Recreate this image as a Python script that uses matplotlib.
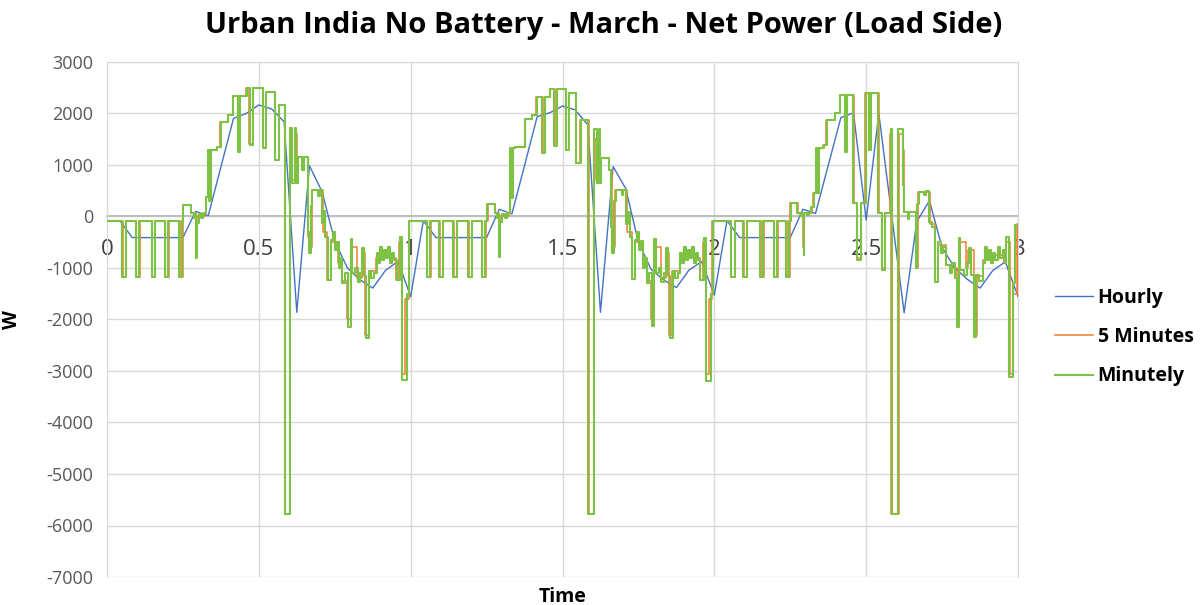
import numpy as np
import matplotlib
matplotlib.use('Agg')
import matplotlib.pyplot as plt

# Hourly net power (W), hours 0..72
hourly_w = [-80, -80, -410, -410, -410, -410, -410, 100, 15, 960, 1905, 2000,
            2165, 2090, 1840, -1860, 985, 480, -480, -1000, -1230, -1390, -1050, -870,
            -1555, -80, -410, -410, -410, -410, -410, 140, 50, 990, 1940, 2015,
            2145, 2070, 1780, -1860, 970, 540, -500, -1025, -1233, -1380, -1040, -877,
            -1525, -80, -410, -410, -410, -410, -410, 140, 60, 990, 1920, 2015,
            -70, 2000, 60, -1870, -100, 307, -600, -1000, -1220, -1390, -1050, -880,
            -1555]

# Minutely series, read as step breakpoints (hour of day, W)
minutely_day1 = [(0.00, -80), (1.21, -1180), (1.48, -80), (2.29, -1180), (2.56, -80),
                 (3.53, -1180), (3.79, -80), (4.58, -1180), (4.85, -80), (5.69, -1180),
                 (5.95, -80), (6.03, 220), (6.64, 60), (6.85, -20), (6.95, 40), (7.05, -810),
                 (7.12, -120), (7.25, 50), (7.40, -30), (7.55, 60), (7.83, 385), (8.00, 1290),
                 (8.08, 300), (8.20, 1290), (8.67, 1340), (8.98, 1840), (9.59, 1970),
                 (9.99, 2340), (10.35, 1260), (10.48, 2340), (11.04, 2490), (11.30, 1390),
                 (11.55, 2490), (12.35, 1325), (12.60, 2425), (13.30, 1100), (13.60, 2165),
                 (14.10, -5780), (14.50, 1710), (14.60, 650), (14.85, 1710), (14.95, 650),
                 (15.10, 1160), (15.45, 900), (15.55, 1160), (15.88, -300), (16.00, -715),
                 (16.10, 200), (16.20, 515), (16.70, 400), (16.80, 515), (17.00, -130),
                 (17.10, 100), (17.25, -390), (17.45, -1230), (17.70, -450), (17.85, -300),
                 (18.00, -650), (18.15, -500), (18.30, -1000), (18.45, -800), (18.60, -1300),
                 (18.80, -1100), (19.05, -2140), (19.25, -440), (19.40, -1100), (19.60, -1000),
                 (19.80, -1280), (20.00, -1100), (20.15, -620), (20.30, -1150), (20.50, -2365),
                 (20.72, -1050), (20.90, -1200), (21.10, -1100), (21.30, -700), (21.45, -900),
                 (21.60, -600), (21.75, -850), (21.90, -650), (22.05, -800), (22.20, -600),
                 (22.40, -900), (22.55, -700), (22.70, -850), (22.90, -1230), (23.15, -405),
                 (23.35, -3175), (23.70, -1500), (23.88, -80)]

minutely_day2 = [(0.00, -80), (1.27, -1180), (1.54, -80), (2.27, -1180), (2.54, -80),
                 (3.38, -1180), (3.64, -80), (4.56, -1180), (4.82, -80), (5.62, -1180),
                 (5.88, -80), (6.06, 243), (6.67, 60), (6.85, -30), (6.92, 40), (7.00, -790),
                 (7.08, -100), (7.25, 40), (7.45, -20), (7.60, 60), (7.86, 1325), (7.95, 350),
                 (8.05, 1325), (8.25, 1340), (9.04, 1890), (9.60, 1970), (9.97, 2330),
                 (10.40, 1225), (10.60, 2330), (11.03, 2470), (11.30, 1370), (11.55, 2470),
                 (12.30, 1290), (12.55, 2390), (13.10, 1030), (13.50, 1875), (14.05, -5780),
                 (14.50, 1700), (14.70, 650), (14.85, 1700), (15.00, 650), (15.05, 1130),
                 (15.70, 900), (15.80, -200), (15.95, -700), (16.10, 300), (16.20, 515),
                 (16.70, 420), (16.80, 515), (17.00, -150), (17.15, 80), (17.30, -400),
                 (17.50, -1220), (17.75, -450), (17.90, -300), (18.05, -650), (18.20, -480),
                 (18.35, -1000), (18.50, -800), (18.65, -1300), (18.85, -1100), (19.05, -2120),
                 (19.25, -430), (19.40, -1100), (19.60, -1000), (19.80, -1280), (20.00, -1100),
                 (20.15, -620), (20.30, -1150), (20.50, -2350), (20.72, -1050), (20.90, -1200),
                 (21.10, -1100), (21.30, -700), (21.45, -900), (21.60, -600), (21.75, -850),
                 (21.90, -650), (22.05, -800), (22.20, -600), (22.40, -900), (22.55, -700),
                 (22.70, -850), (22.90, -1230), (23.15, -420), (23.35, -3200), (23.70, -1500),
                 (23.88, -80)]

minutely_day3 = [(0.00, -80), (1.30, -1180), (1.64, -80), (2.30, -1180), (2.57, -80),
                 (3.62, -1180), (3.88, -80), (4.73, -1180), (4.99, -80), (5.68, -1180),
                 (5.94, -80), (6.02, 256), (6.57, 60), (6.75, 0), (6.90, 60), (7.05, -750),
                 (7.12, 60), (7.30, 20), (7.50, 60), (7.65, 190), (7.84, 450), (8.00, 1325),
                 (8.10, 450), (8.30, 1325), (8.63, 1390), (8.90, 1875), (9.55, 2005),
                 (9.95, 2360), (10.35, 1260), (10.50, 2360), (10.95, 256), (11.30, -845),
                 (11.60, 256), (11.97, 2390), (12.25, 1290), (12.40, 2390), (12.97, 70),
                 (13.24, -1040), (13.50, 70), (13.95, 1700), (14.03, -5780), (14.55, 1700),
                 (14.95, 610), (15.00, 93), (15.30, -50), (15.40, 93), (15.90, -1000),
                 (16.00, 250), (16.14, 480), (16.60, 420), (16.70, 500), (17.00, -100),
                 (17.20, -200), (17.45, -1265), (17.70, -500), (17.90, -700), (18.10, -600),
                 (18.30, -950), (18.60, -1100), (18.80, -900), (19.00, -1200), (19.17, -2140),
                 (19.30, -425), (19.45, -1040), (19.70, -1140), (19.95, -900), (20.09, -620),
                 (20.25, -1140), (20.50, -2335), (20.70, -1140), (20.95, -1260), (21.20, -900),
                 (21.40, -600), (21.55, -850), (21.70, -650), (21.85, -900), (22.00, -700),
                 (22.20, -850), (22.40, -600), (22.60, -800), (22.80, -650), (22.95, -900),
                 (23.07, -405), (23.30, -3110), (23.60, -1300), (23.78, -165), (24.00, -165)]

# 5 minute series (hour of day, W)
five_min_day1 = [(0.00, -80), (1.17, -80), (1.25, -1180), (1.42, -1180), (1.50, -80),
                 (2.25, -80), (2.33, -1180), (2.50, -1180), (2.58, -80), (3.50, -80),
                 (3.58, -1180), (3.75, -1180), (3.83, -80), (4.50, -80), (4.58, -1180),
                 (4.83, -1180), (4.92, -80), (5.67, -80), (5.75, -1180), (5.92, -1180),
                 (6.00, 220), (6.58, 220), (6.67, 60), (7.00, -600), (7.08, 0), (7.75, 60),
                 (7.83, 385), (8.08, 1290), (8.67, 1340), (8.92, 1840), (9.58, 1970),
                 (9.92, 2340), (10.33, 1300), (10.42, 2340), (11.00, 2490), (11.25, 1400),
                 (11.50, 2490), (12.33, 1325), (12.58, 2425), (13.25, 1100), (13.58, 2165),
                 (14.00, 2165), (14.08, -5780), (14.42, -5780), (14.50, 1500), (14.58, 700),
                 (14.83, 1600), (15.00, 700), (15.08, 1160), (15.83, 1160), (15.92, -400),
                 (16.08, -600), (16.17, 515), (16.92, 515), (17.08, -300), (17.42, -1230),
                 (17.67, -500), (18.25, -900), (18.58, -1250), (19.00, -2000), (19.25, -600),
                 (19.75, -1200), (20.17, -700), (20.42, -2300), (20.67, -1050), (21.25, -800),
                 (21.75, -750), (22.42, -800), (22.83, -1230), (23.08, -500), (23.33, -3050),
                 (23.58, -1600), (23.83, -80), (24.00, -80)]

five_min_day2 = [(0.00, -80), (1.25, -80), (1.33, -1180), (1.50, -1180), (1.58, -80),
                 (2.25, -80), (2.33, -1180), (2.50, -1180), (2.58, -80), (3.33, -80),
                 (3.42, -1180), (3.58, -1180), (3.67, -80), (4.50, -80), (4.58, -1180),
                 (4.75, -1180), (4.83, -80), (5.58, -80), (5.67, -1180), (5.83, -1180),
                 (5.92, -80), (6.08, 243), (6.58, 243), (6.67, 60), (7.00, -600), (7.08, 0),
                 (7.75, 60), (7.83, 1325), (8.25, 1340), (9.00, 1890), (9.58, 1970),
                 (9.92, 2330), (10.42, 1250), (10.58, 2330), (11.00, 2470), (11.33, 1400),
                 (11.50, 2470), (12.25, 1290), (12.50, 2390), (13.08, 1030), (13.42, 1875),
                 (14.00, 1875), (14.08, -5780), (14.42, -5780), (14.50, 1500), (14.67, 700),
                 (14.83, 1600), (15.00, 700), (15.08, 1130), (15.67, 900), (15.92, -600),
                 (16.17, 515), (16.92, 515), (17.08, -300), (17.50, -1220), (17.75, -500),
                 (18.33, -900), (18.67, -1250), (19.00, -2000), (19.25, -600), (19.75, -1200),
                 (20.17, -700), (20.42, -2300), (20.67, -1050), (21.25, -800), (21.75, -750),
                 (22.42, -800), (22.83, -1230), (23.08, -500), (23.33, -3050), (23.58, -1600),
                 (23.83, -80), (24.00, -80)]

five_min_day3 = [(0.00, -80), (1.25, -80), (1.33, -1180), (1.58, -1180), (1.67, -80),
                 (2.25, -80), (2.33, -1180), (2.50, -1180), (2.58, -80), (3.58, -80),
                 (3.67, -1180), (3.83, -1180), (3.92, -80), (4.67, -80), (4.75, -1180),
                 (4.92, -1180), (5.00, -80), (5.67, -80), (5.75, -1180), (5.92, -1180),
                 (6.00, 256), (6.50, 256), (6.58, 60), (7.00, -600), (7.08, 60), (7.75, 190),
                 (7.83, 450), (8.08, 1325), (8.58, 1390), (8.83, 1875), (9.50, 2005),
                 (9.92, 2360), (10.33, 1300), (10.50, 2360), (10.92, 2360), (11.00, 256),
                 (11.25, -800), (11.58, 256), (11.92, 2390), (12.25, 1290), (12.42, 2390),
                 (12.92, 2390), (13.00, 70), (13.25, -1000), (13.50, 70), (13.92, 1600),
                 (14.00, -5780), (14.50, -5780), (14.58, 1600), (14.92, 1290), (15.00, 93),
                 (15.83, 93), (15.92, -1000), (16.08, 480), (16.92, 480), (17.08, -150),
                 (17.42, -1265), (17.67, -550), (18.33, -950), (18.75, -1000), (19.17, -2100),
                 (19.33, -500), (19.92, -1000), (20.08, -650), (20.50, -2300), (20.75, -1150),
                 (21.25, -850), (21.75, -750), (22.42, -750), (22.92, -900), (23.08, -500),
                 (23.33, -3050), (23.58, -1500), (23.92, -150), (24.00, -1500)]

x_ticks = [0, 0.5, 1, 1.5, 2, 2.5, 3]
x_tick_labels = ['0', '0.5', '1', '1.5', '2', '2.5', '3']
y_ticks = [3000, 2000, 1000, 0, -1000, -2000, -3000, -4000, -5000, -6000, -7000]
y_tick_labels = ['3000', '2000', '1000', '0', '-1000', '-2000', '-3000', '-4000',
                 '-5000', '-6000', '-7000']


def to_days(day, pts):
    # hour of day -> fractional day on the time axis
    t = [day + h / 24.0 for h, w in pts]
    w = [w for h, w in pts]
    return t, w


plt.rcParams['font.family'] = ['Open Sans', 'DejaVu Sans']

fig = plt.figure(figsize=(12, 6.05), dpi=100)
ax = fig.add_axes([107 / 1200, 1 - 577 / 605, 911 / 1200, 515 / 605])

# hourly
hour_t = [i / 24.0 for i in range(len(hourly_w))]
ax.plot(hour_t, hourly_w, color='#4472C4', lw=1.0, label='Hourly', zorder=3)

# 5 minutes
t5, w5 = [], []
for d, pts in enumerate([five_min_day1, five_min_day2, five_min_day3]):
    t, w = to_days(d, pts)
    t5 += t
    w5 += w
ax.plot(t5, w5, color='#ED7D31', lw=1.1, drawstyle='steps-post', label='5 Minutes', zorder=4)

# minutely
tm, wm = [], []
for d, pts in enumerate([minutely_day1, minutely_day2, minutely_day3]):
    t, w = to_days(d, pts)
    tm += t
    wm += w
tm.append(3.0)
wm.append(wm[-1])
ax.plot(tm, wm, color='#7DC242', lw=1.5, drawstyle='steps-post', label='Minutely', zorder=5)

ax.set_xlim(0, 3)
ax.set_ylim(-7000, 3000)
ax.set_xticks(x_ticks)
ax.set_xticklabels(x_tick_labels)
ax.set_yticks(y_ticks)
ax.set_yticklabels(y_tick_labels)
ax.grid(True, color='#d9d9d9', lw=1.0, zorder=0)
ax.set_axisbelow(True)

for s in ['left', 'right', 'top']:
    ax.spines[s].set_color('#d9d9d9')
ax.spines['bottom'].set_position(('data', 0))
ax.spines['bottom'].set_color('#bfbfbf')
ax.spines['bottom'].set_linewidth(1.5)
ax.spines['bottom'].set_zorder(2)

ax.tick_params(axis='x', length=0, pad=16, labelsize=16, labelcolor='#404040')
ax.tick_params(axis='y', length=0, pad=10, labelsize=13, labelcolor='#595959')

ax.set_ylabel('W', fontsize=14, fontweight='bold')
ax.yaxis.set_label_coords(-0.093, 0.5)
ax.set_xlabel('Time', fontsize=14, fontweight='bold')
ax.xaxis.set_label_coords(0.5, -0.02)

fig.text(0.503, 0.958, 'Urban India No Battery - March - Net Power (Load Side)',
         ha='center', va='center', fontsize=21, fontweight='bold')

fig.legend(loc='center left', bbox_to_anchor=(1047 / 1200, 1 - 337 / 605),
           frameon=False, prop={'size': 14, 'weight': 'bold'}, borderaxespad=0,
           handlelength=1.95, handletextpad=0.25, labelspacing=1.0)

fig.savefig('out.png', dpi=100)
